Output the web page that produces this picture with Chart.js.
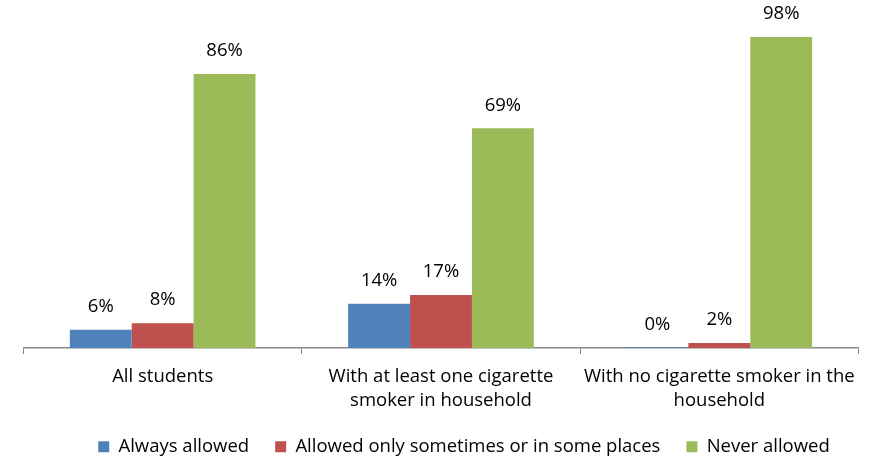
<!DOCTYPE html>
<html><head><meta charset="utf-8">
<script src="https://cdn.jsdelivr.net/npm/chart.js@4"></script>
<style>html,body{margin:0;padding:0;background:#fff}#wrap{width:871px;height:458px}</style>
</head><body><div id="wrap"><canvas id="c" width="871" height="458"></canvas></div>
<script>
const categories = [["All students"], ["With at least one cigarette", "smoker in household"], ["With no cigarette smoker in the", "household"]];
const seriesNames = ["Always allowed", "Allowed only sometimes or in some places", "Never allowed"];
const alwaysAllowed = [5.7, 13.9, 0.2];
const sometimesAllowed = [7.8, 16.7, 1.6];
const neverAllowed = [86.2, 69.1, 97.8];
const alwaysLabels = ["6%", "14%", "0%"];
const sometimesLabels = ["8%", "17%", "2%"];
const neverLabels = ["86%", "69%", "98%"];

const FONT = "'Open Sans', Lato, sans-serif";
const FS = 18.5;
const labelPlugin = {
  id: 'valLabels',
  afterLayout(chart) {
    // the reference legend sits a little right of centre
    chart.legend.left += 46;
  },
  afterDatasetsDraw(chart) {
    const ctx = chart.ctx;
    ctx.save();
    ctx.font = FS + "px " + FONT;
    ctx.fillStyle = '#000';
    ctx.textAlign = 'center';
    ctx.textBaseline = 'middle';
    chart.data.datasets.forEach((ds, i) => {
      chart.getDatasetMeta(i).data.forEach((bar, j) => {
        ctx.fillText(ds.valueLabels[j], bar.x, bar.y - 23);
      });
    });
    ctx.restore();
  }
};

new Chart(document.getElementById('c'), {
  type: 'bar',
  data: {
    labels: categories,
    datasets: [
      {label: seriesNames[0], data: alwaysAllowed, valueLabels: alwaysLabels, backgroundColor: '#4F81BD'},
      {label: seriesNames[1], data: sometimesAllowed, valueLabels: sometimesLabels, backgroundColor: '#C0504D'},
      {label: seriesNames[2], data: neverAllowed, valueLabels: neverLabels, backgroundColor: '#9BBB59'}
    ]
  },
  options: {
    responsive: false,
    animation: false,
    datasets: {bar: {categoryPercentage: 0.667, barPercentage: 1.0}},
    layout: {padding: {left: 23.5, right: 12.5, top: 30, bottom: -8}},
    scales: {
      x: {
        afterFit(scale) { scale.height = 63.5; },
        grid: {drawOnChartArea: false, drawTicks: true, tickLength: 6, color: '#868686', offset: true},
        border: {color: '#868686', width: 1.5},
        ticks: {color: '#000', font: {family: FONT, size: FS, lineHeight: '24px'}, padding: 11, maxRotation: 0}
      },
      y: {display: false, min: 0, max: 100}
    },
    plugins: {
      legend: {
        position: 'bottom',
        labels: {boxWidth: 11, boxHeight: 11, color: '#000', font: {family: FONT, size: FS}, padding: 26}
      },
      tooltip: {enabled: false}
    }
  },
  plugins: [labelPlugin]
});
</script></body></html>
